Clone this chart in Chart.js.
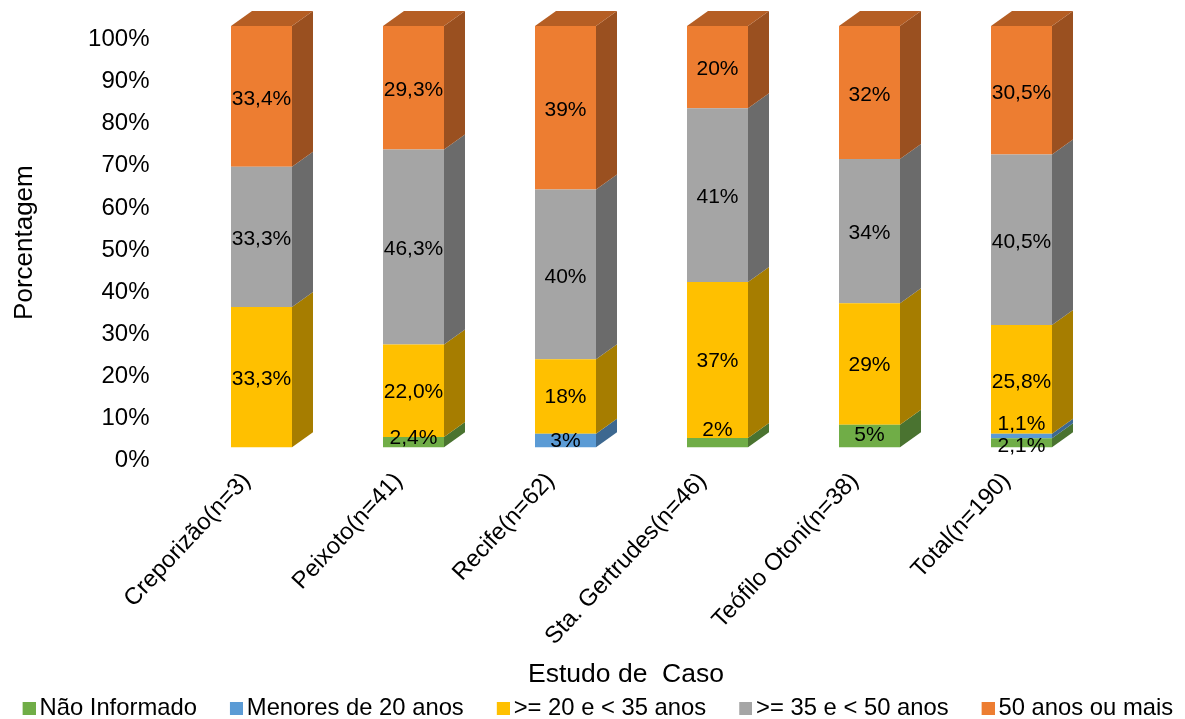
<!DOCTYPE html>
<html lang="pt">
<head>
<meta charset="utf-8">
<title>Estudo de Caso</title>
<script src="https://cdn.jsdelivr.net/npm/chart.js@4"></script>
<style>
  html, body { margin: 0; padding: 0; background: #ffffff; overflow: hidden; }
  canvas { display: block; }
</style>
</head>
<body>
<canvas id="age-chart" width="1185" height="719"></canvas>
<script>
// Values
const categories = ['Creporizão(n=3)', 'Peixoto(n=41)', 'Recife(n=62)', 'Sta. Gertrudes(n=46)', 'Teófilo Otoni(n=38)', 'Total(n=190)'];
const seriesNames = ['Não Informado', 'Menores de 20 anos', '>= 20 e < 35 anos', '>= 35 e < 50 anos', '50 anos ou mais'];
const naoInformado = [0, 2.4, 0, 2.2, 5.3, 2.1];
const menores20 = [0, 0, 3.2, 0, 0, 1.1];
const de20a35 = [33.3, 22.0, 17.7, 37, 28.9, 25.8];
const de35a50 = [33.3, 46.3, 40.3, 41.3, 34.2, 40.5];
const mais50 = [33.4, 29.3, 38.8, 19.5, 31.6, 30.5];
const labelTexts = [
    ['', '2,4%', '', '2%', '5%', '2,1%'],
    ['', '', '3%', '', '', '1,1%'],
    ['33,3%', '22,0%', '18%', '37%', '29%', '25,8%'],
    ['33,3%', '46,3%', '40%', '41%', '34%', '40,5%'],
    ['33,4%', '29,3%', '39%', '20%', '32%', '30,5%']
];
const tickValues = [0, 10, 20, 30, 40, 50, 60, 70, 80, 90, 100];

const seriesValues = [naoInformado, menores20, de20a35, de35a50, mais50];
const frontColors = ['#70AD47', '#5B9BD5', '#FFC000', '#A5A5A5', '#ED7D31'];
const sideColors = ['#4A7330', '#3D6890', '#A67D00', '#6B6B6B', '#9A5020'];
const topColors = ['#568536', '#4A7DAA', '#C29200', '#7E7E7E', '#B55E24'];

const FONT = '"Liberation Sans", Arial, sans-serif';
const DEPTH_X = 21;
const DEPTH_Y = 15;
// the axis starts below the bars' zero and the tick labels sit lower than the bars (3D depth)
const AXIS_MIN = -2.85;
const TICK_SHIFT = 3.2;
// labels that Excel moved away from the centre of a thin segment [series][category] px
const labelNudge = { '0,3': -15, '0,5': 1, '1,5': -14, '0,1': -6, '0,4': -3, '1,2': -2, '2,1': -1, '2,2': -2, '2,3': -1, '2,4': -1 };

// Draws the side and top faces of the stacked columns
const depthPlugin = {
    id: 'depthFaces',
    beforeDatasetsDraw(chart) {
        const ctx = chart.ctx;
        ctx.save();
        chart.data.datasets.forEach((ds, i) => {
            chart.getDatasetMeta(i).data.forEach((bar, j) => {
                if (!ds.data[j]) return;
                const right = bar.x + bar.width / 2;
                ctx.fillStyle = sideColors[i];
                ctx.beginPath();
                ctx.moveTo(right, bar.base);
                ctx.lineTo(right, bar.y);
                ctx.lineTo(right + DEPTH_X, bar.y - DEPTH_Y);
                ctx.lineTo(right + DEPTH_X, bar.base - DEPTH_Y);
                ctx.closePath();
                ctx.fill();
                if (i === chart.data.datasets.length - 1) {
                    const left = bar.x - bar.width / 2;
                    ctx.fillStyle = topColors[i];
                    ctx.beginPath();
                    ctx.moveTo(left, bar.y);
                    ctx.lineTo(right, bar.y);
                    ctx.lineTo(right + DEPTH_X, bar.y - DEPTH_Y);
                    ctx.lineTo(left + DEPTH_X, bar.y - DEPTH_Y);
                    ctx.closePath();
                    ctx.fill();
                }
            });
        });
        ctx.restore();
    }
};

// Percentage text inside each segment, plus the x axis title (not centred on the axis here)
const labelPlugin = {
    id: 'segmentLabels',
    afterLayout(chart) {
        chart.legend.left = -10.4;
        chart.legend.top += 11;
    },
    afterDatasetsDraw(chart) {
        const ctx = chart.ctx;
        ctx.save();
        ctx.font = '21px ' + FONT;
        ctx.fillStyle = '#000000';
        ctx.textAlign = 'center';
        ctx.textBaseline = 'middle';
        chart.data.datasets.forEach((ds, i) => {
            chart.getDatasetMeta(i).data.forEach((bar, j) => {
                const text = labelTexts[i][j];
                if (!text) return;
                const nudge = labelNudge[i + ',' + j] || 0;
                ctx.fillText(text, bar.x, (bar.y + bar.base) / 2 + 2.5 + nudge);
            });
        });
        ctx.font = '26.5px ' + FONT;
        ctx.fillText('Estudo de  Caso', 626, 675);
        ctx.restore();
    }
};

// Legend marker: transparent on the left, it also carries the gap between items
function legendMarker(color) {
    const c = document.createElement('canvas');
    c.width = 54;
    c.height = 13;
    const g = c.getContext('2d');
    g.fillStyle = color;
    g.fillRect(41, 0, 13, 13);
    return c;
}

new Chart(document.getElementById('age-chart'), {
    type: 'bar',
    data: {
        labels: categories,
        datasets: seriesNames.map((name, i) => ({
            label: name,
            data: seriesValues[i],
            backgroundColor: frontColors[i],
            pointStyle: legendMarker(frontColors[i]),
            barPercentage: 1,
            categoryPercentage: 61 / 152
        }))
    },
    plugins: [depthPlugin, labelPlugin],
    options: {
        responsive: false,
        animation: false,
        layout: { padding: { top: 26, right: 0, left: 0, bottom: 0 } },
        plugins: {
            tooltip: { enabled: false },
            legend: {
                position: 'bottom',
                align: 'start',
                labels: {
                    usePointStyle: true,
                    pointStyleWidth: 38,
                    boxHeight: 13,
                    padding: 0,
                    color: '#000000',
                    font: { family: FONT, size: 23.8 }
                }
            }
        },
        scales: {
            x: {
                stacked: true,
                grid: { display: false },
                border: { display: false },
                ticks: {
                    color: '#000000',
                    font: { family: FONT, size: 23.8 },
                    minRotation: 47,
                    maxRotation: 47,
                    labelOffset: -15,
                    padding: 0
                },
                afterFit(scale) { scale.height = 226; }
            },
            y: {
                stacked: true,
                min: AXIS_MIN,
                max: 100,
                grid: { display: false },
                border: { display: false },
                afterBuildTicks(scale) {
                    scale.ticks = tickValues.map(v => ({ value: v - TICK_SHIFT }));
                },
                afterFit(scale) {
                    scale.width = 185.5;
                    scale.paddingTop = 0;
                    scale.paddingBottom = 0;
                },
                ticks: {
                    color: '#000000',
                    font: { family: FONT, size: 24 },
                    padding: 28,
                    callback: value => Math.round(value + TICK_SHIFT) + '%'
                },
                title: {
                    display: true,
                    text: 'Porcentagem',
                    color: '#000000',
                    font: { family: FONT, size: 26 },
                    padding: { top: 9, bottom: 0 }
                }
            },
            // empty axis that reserves the space on the right of the columns
            spacer: {
                position: 'right',
                grid: { display: false },
                border: { display: false },
                ticks: { display: false },
                afterFit(scale) { scale.width = 87.5; }
            }
        }
    }
});
</script>
</body>
</html>
